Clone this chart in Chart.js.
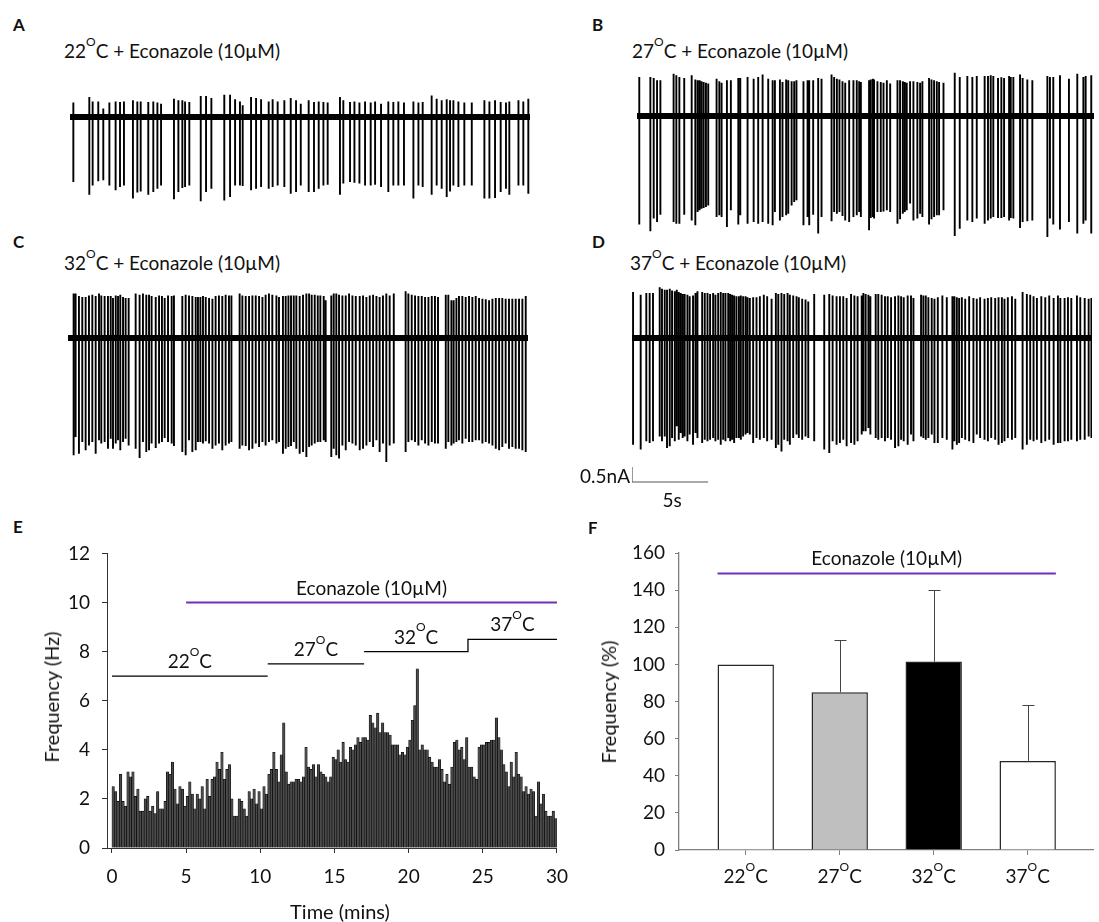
<!DOCTYPE html>
<html lang="en">
<head>
<meta charset="utf-8">
<title>Econazole (10µM) y temperatura</title>
<script src="https://cdn.jsdelivr.net/npm/chart.js@4.4.1/dist/chart.umd.min.js"></script>
<style>
  html, body { margin: 0; padding: 0; background: #fff; }
  #figura { position: relative; width: 1099px; height: 922px; overflow: hidden;
            font-family: Lato, 'Open Sans', sans-serif; color: #111; }
  #figura canvas { position: absolute; }
  .letra { position: absolute; font-weight: 700; font-size: 17px; line-height: 17px; }
  .titulo { position: absolute; font-size: 19px; line-height: 19px; white-space: nowrap; }
  .titulo sup { font-size: 12px; vertical-align: baseline; position: relative; top: -12px; }
  .eje { position: absolute; font-size: 20px; line-height: 20px; white-space: nowrap; }
  .centrado { transform: translateX(-50%); }
  .rotado { transform: translate(-50%, -50%) rotate(-90deg); }
</style>
</head>
<body>
<div id="figura">
  <div class="letra" style="left:13px;top:16px">A</div>
  <div class="titulo" style="left:64px;top:41px">22<sup>O</sup>C + Econazole (10µM)</div>
  <canvas id="trazoA" width="460" height="126" style="left:70px;top:87px"></canvas>

  <div class="letra" style="left:592px;top:16px">B</div>
  <div class="titulo" style="left:632px;top:41px">27<sup>O</sup>C + Econazole (10µM)</div>
  <canvas id="trazoB" width="457" height="180" style="left:637px;top:65px"></canvas>

  <div class="letra" style="left:13px;top:233px">C</div>
  <div class="titulo" style="left:64px;top:253px">32<sup>O</sup>C + Econazole (10µM)</div>
  <canvas id="trazoC" width="460" height="186" style="left:68px;top:284px"></canvas>

  <div class="letra" style="left:592px;top:233px">D</div>
  <div class="titulo" style="left:630px;top:253px">37<sup>O</sup>C + Econazole (10µM)</div>
  <canvas id="trazoD" width="470" height="210" style="left:622px;top:281px"></canvas>
  <div class="titulo" style="right:469px;top:466px">0.5nA</div>
  <div class="titulo centrado" style="left:672px;top:490px">5s</div>

  <div class="letra" style="left:13px;top:518px">E</div>
  <canvas id="graficoE" width="580" height="392" style="left:0px;top:530px"></canvas>
  <div class="eje centrado" style="left:340px;top:901px">Time (mins)</div>
  <div class="eje rotado" style="left:51px;top:697px">Frequency (Hz)</div>

  <div class="letra" style="left:588px;top:519px">F</div>
  <canvas id="graficoF" width="519" height="392" style="left:580px;top:530px"></canvas>
  <div class="eje rotado" style="left:608px;top:702px">Frequency (%)</div>
</div>

<script>
// ---------------- Trazos A-D ----------------
// Cada pico: tiempo (s), amplitud hacia abajo y hacia arriba (nA) respecto a la línea base
const duracionA = 30.26;
const tiempoPicosA = [0.22,1.27,1.49,1.86,2.19,2.59,3.00,3.29,3.55,4.14,4.43,4.65,5.15,5.48,5.75,5.99,6.84,7.13,7.39,7.57,
  7.85,8.60,8.95,9.30,10.15,10.53,10.86,11.18,11.36,11.91,12.24,12.57,13.07,13.33,13.66,14.10,14.52,14.87,15.18,15.70,
  16.05,16.36,16.67,16.95,17.76,17.98,18.42,18.71,19.04,19.41,19.78,20.07,20.46,20.94,21.27,21.60,21.97,22.59,22.92,23.20,
  23.79,24.12,24.45,24.78,25.00,25.22,25.55,25.94,26.43,27.26,27.59,27.96,28.33,28.68,28.90,29.50,29.82,30.15];
const bajadaPicosA = [2.17,2.59,2.28,2.14,2.11,2.28,2.44,2.33,2.28,2.72,2.52,2.48,2.59,2.50,2.39,2.28,2.74,2.50,2.37,2.33,
  2.28,2.81,2.50,2.39,2.78,2.67,2.28,2.28,2.30,2.44,2.39,2.33,2.39,2.33,2.28,2.33,2.56,2.50,2.28,2.50,
  2.50,2.39,2.28,2.26,2.59,2.22,2.17,2.19,2.22,2.28,2.28,2.26,2.33,2.50,2.28,2.28,2.28,2.72,2.28,2.33,
  2.59,2.28,2.39,2.67,2.48,2.28,2.33,2.28,2.28,2.72,2.72,2.70,2.50,2.39,2.59,2.28,2.28,2.56];
const subidaPicosA = [0.48,0.67,0.52,0.52,0.28,0.48,0.52,0.50,0.52,0.56,0.52,0.52,0.50,0.52,0.48,0.44,0.61,0.56,0.56,0.52,
  0.50,0.70,0.70,0.63,0.74,0.74,0.59,0.52,0.39,0.67,0.63,0.59,0.52,0.59,0.52,0.56,0.63,0.56,0.44,0.56,
  0.50,0.52,0.50,0.48,0.67,0.56,0.50,0.52,0.48,0.52,0.48,0.52,0.44,0.52,0.50,0.52,0.48,0.52,0.48,0.50,
  0.72,0.61,0.56,0.59,0.56,0.56,0.52,0.48,0.48,0.56,0.52,0.56,0.50,0.48,0.52,0.56,0.52,0.61];

const duracionB = 30.09;
const tiempoPicosB = [0.15,0.88,1.10,1.32,1.54,2.41,2.59,2.79,3.11,3.60,3.84,3.99,4.12,4.25,4.39,4.54,4.69,5.24,5.42,5.57,
  5.92,6.18,6.67,6.80,7.28,7.68,7.98,8.27,8.64,8.93,9.08,9.41,9.58,9.82,9.96,10.18,10.35,10.50,10.96,11.23,
  11.34,11.60,11.93,12.15,12.81,12.98,13.16,13.33,13.53,13.71,13.97,14.25,14.47,14.63,14.74,15.28,15.39,15.53,15.61,15.83,
  16.05,16.23,16.45,16.67,17.15,17.32,17.50,17.63,17.76,17.98,18.20,18.46,18.64,18.79,19.23,19.39,19.56,19.74,19.89,20.18,
  20.92,21.25,21.75,22.08,22.37,22.89,23.11,23.29,23.46,23.77,23.99,24.17,24.50,24.61,24.78,25.22,25.39,25.70,26.03,27.02,
  27.19,27.41,27.85,28.44,28.99,29.39,29.54,29.91];
const bajadaPicosB = [3.62,3.84,3.42,3.53,3.29,3.53,3.59,3.59,3.29,3.48,3.64,3.20,3.14,3.09,3.07,3.03,2.98,3.37,3.31,3.37,
  3.70,3.14,3.62,3.31,3.59,3.53,3.59,3.53,3.59,3.64,3.20,3.48,3.37,3.31,3.26,2.98,2.87,2.81,3.64,3.37,
  3.64,3.29,3.92,3.37,3.51,3.20,3.26,3.20,3.33,3.48,3.53,3.37,3.31,3.20,3.37,3.81,3.40,3.37,3.42,3.20,
  3.20,3.18,3.14,3.20,3.59,3.44,3.26,3.20,3.14,2.92,3.48,3.42,3.26,3.37,3.62,3.44,3.37,3.31,3.31,3.14,
  4.00,3.76,3.48,3.53,3.42,3.59,3.48,3.42,3.37,3.40,3.40,3.37,3.48,3.40,3.42,3.73,3.53,3.51,3.48,4.03,
  3.42,3.62,3.78,3.53,3.92,3.59,3.48,3.92];
const subidaPicosB = [1.30,1.30,1.27,1.19,1.19,1.41,1.36,1.30,1.27,1.36,1.22,1.19,1.19,1.16,1.13,1.11,1.08,1.24,1.16,1.11,
  1.19,1.19,1.27,1.27,1.30,1.24,1.30,1.38,1.24,1.19,1.19,1.22,1.13,1.22,1.19,1.16,1.16,1.19,1.16,1.19,
  1.19,1.19,1.27,1.24,1.38,1.30,1.24,1.22,1.16,1.11,1.19,1.19,1.19,1.16,1.13,1.19,1.22,1.24,1.22,1.16,
  1.13,1.11,1.19,1.08,1.19,1.19,1.16,1.13,1.11,1.16,1.16,1.13,1.11,1.16,1.27,1.22,1.19,1.16,1.13,1.11,
  1.44,1.30,1.33,1.30,1.33,1.33,1.33,1.36,1.33,1.27,1.29,1.27,1.33,1.30,1.30,1.38,1.27,1.22,1.19,1.33,
  1.30,1.30,1.36,1.24,1.41,1.30,1.33,1.36];

const duracionC = 30.26;
const tiempoPicosC = [0.37,0.50,0.72,0.94,1.16,1.38,1.60,1.82,2.04,2.19,2.41,2.63,2.81,2.96,3.14,3.29,3.44,3.62,3.79,3.99,
  4.45,4.71,4.93,5.15,5.33,5.50,5.77,5.99,6.18,6.36,6.58,6.82,6.97,
  7.52,7.74,7.96,8.18,8.40,8.55,8.71,8.88,9.06,9.28,9.50,9.71,9.93,10.15,10.37,10.59,10.75,
  11.29,11.47,11.69,11.91,12.13,12.35,12.57,12.79,13.00,13.22,13.44,13.71,13.88,
  14.14,14.32,14.50,14.67,14.85,15.02,15.24,15.46,15.68,15.86,16.03,16.23,16.43,16.60,16.82,16.95,
  17.32,17.48,17.65,17.83,18.05,18.27,18.49,18.71,18.93,19.19,19.41,19.63,19.85,20.07,20.29,20.50,20.72,20.94,21.16,21.43,
  22.21,22.39,22.61,22.83,23.05,23.27,23.49,23.71,23.93,24.14,24.34,
  24.85,25.02,25.22,25.37,25.55,25.72,25.94,26.16,26.38,26.60,26.82,27.04,27.26,27.48,27.70,27.92,28.14,28.36,28.57,28.79,
  29.01,29.23,29.45,29.67,29.89,30.11];
const bajadaPicosC = [3.91,3.30,3.86,3.47,3.74,3.58,3.47,3.86,3.41,3.52,3.47,3.69,3.36,3.69,3.52,3.41,3.74,3.47,3.36,3.58,
  3.69,4.00,3.47,3.80,3.74,3.52,3.67,3.52,3.47,3.33,3.47,3.52,3.60,
  3.80,3.91,3.41,3.80,3.74,3.47,3.47,3.52,3.44,3.52,3.69,3.58,3.52,3.74,3.58,3.52,3.47,
  3.69,3.58,3.60,3.74,3.69,3.52,3.63,3.47,3.58,3.47,3.41,3.52,3.47,
  3.86,3.69,3.63,3.60,3.47,3.69,3.86,3.80,3.97,3.63,3.58,3.52,3.47,3.47,3.41,3.47,
  3.97,3.69,3.91,4.02,3.58,3.74,3.47,3.52,3.58,3.74,3.69,3.58,3.47,3.63,3.41,3.80,3.52,4.13,3.58,3.52,
  3.80,3.47,3.41,3.47,3.58,3.41,3.52,3.58,3.47,3.52,3.52,
  3.69,3.47,3.58,3.52,3.47,3.41,3.52,3.36,3.47,3.47,3.41,3.41,3.52,3.47,3.52,3.58,3.69,3.74,3.63,3.52,
  3.69,3.63,3.69,3.69,3.74,3.80];
const subidaPicosC = [1.48,1.48,1.40,1.37,1.37,1.42,1.44,1.40,1.48,1.42,1.40,1.40,1.40,1.33,1.42,1.40,1.44,1.37,1.33,1.33,
  1.48,1.44,1.48,1.44,1.44,1.40,1.37,1.42,1.40,1.33,1.42,1.40,1.42,
  1.40,1.44,1.42,1.40,1.37,1.37,1.37,1.40,1.37,1.33,1.31,1.40,1.42,1.40,1.44,1.42,1.42,
  1.48,1.42,1.40,1.40,1.42,1.42,1.40,1.37,1.44,1.48,1.44,1.42,1.37,
  1.40,1.40,1.42,1.42,1.42,1.42,1.40,1.44,1.48,1.48,1.44,1.44,1.42,1.42,1.40,1.26,
  1.42,1.48,1.48,1.44,1.42,1.42,1.48,1.42,1.40,1.40,1.42,1.37,1.42,1.44,1.40,1.37,1.42,1.48,1.42,1.48,
  1.56,1.48,1.44,1.42,1.40,1.40,1.37,1.37,1.40,1.40,1.37,
  1.44,1.44,1.26,1.26,1.33,1.40,1.40,1.37,1.40,1.37,1.40,1.33,1.31,1.29,1.26,1.31,1.33,1.33,1.33,1.31,
  1.31,1.31,1.31,1.31,1.31,1.40];

const duracionD = 30.22;
const tiempoPicosD = [0.07,0.57,0.94,1.16,1.38,1.82,1.97,2.15,2.30,2.48,2.63,2.81,2.94,3.07,3.20,3.33,3.46,3.64,3.79,4.01,
  4.17,4.30,4.61,4.78,4.96,5.13,5.33,5.48,5.66,5.83,5.99,6.14,6.32,6.45,6.58,6.71,6.86,7.02,7.15,7.30,7.46,7.59,7.74,
  7.96,8.18,8.40,8.66,8.88,9.17,9.45,9.61,9.82,10.00,10.22,10.37,10.59,10.81,10.96,11.18,11.40,11.58,11.97,
  12.63,12.96,13.18,13.44,13.66,13.88,14.10,14.39,14.61,14.82,15.09,15.20,15.35,15.53,15.66,16.01,16.18,16.40,16.62,16.80,
  17.02,17.28,17.50,17.68,17.85,18.11,18.33,18.49,
  18.99,19.14,19.30,19.47,19.69,19.87,20.09,20.39,20.68,21.05,21.18,21.34,21.49,21.67,21.89,22.15,22.43,22.65,22.87,23.16,
  23.38,23.60,23.86,24.08,24.30,24.47,24.69,24.96,25.18,
  25.66,25.94,26.16,26.38,26.60,26.89,27.15,27.41,27.70,27.98,28.14,28.42,28.64,28.86,29.23,29.45,29.74,30.00,30.18];
const bajadaPicosD = [3.56,3.72,3.44,3.50,3.44,3.28,3.44,3.28,3.67,3.61,3.33,3.44,2.94,3.39,3.17,3.33,3.28,3.44,3.22,3.56,
  3.17,3.33,3.50,3.39,3.44,3.39,3.33,3.44,3.39,3.56,3.39,3.44,3.33,3.44,3.39,3.50,3.33,3.33,3.39,3.28,3.22,3.17,3.22,
  3.50,3.33,3.39,3.33,3.44,3.39,3.67,3.56,3.78,3.39,3.44,3.56,3.33,3.22,3.33,3.39,3.28,3.33,3.44,
  3.72,3.83,3.44,3.56,3.50,3.39,3.61,3.50,3.56,3.44,3.22,3.11,3.11,3.00,3.22,3.33,3.39,3.33,3.44,3.33,
  3.39,3.67,3.61,3.39,3.44,3.56,3.22,3.44,
  3.28,3.33,3.39,3.33,3.22,3.50,3.50,3.33,3.39,3.72,3.44,3.56,3.50,3.33,3.39,3.44,3.50,3.22,3.33,3.39,
  3.44,3.33,3.39,3.56,3.50,3.44,3.33,3.39,3.33,
  3.72,3.56,3.39,3.44,3.39,3.50,3.44,3.39,3.56,3.50,3.50,3.44,3.44,3.39,3.44,3.39,3.39,3.28,3.33];
const subidaPicosD = [1.53,1.44,1.50,1.50,1.50,1.69,1.64,1.61,1.61,1.64,1.58,1.56,1.61,1.53,1.50,1.47,1.47,1.44,1.39,1.42,
  1.50,1.56,1.53,1.50,1.50,1.47,1.50,1.44,1.50,1.53,1.50,1.50,1.50,1.47,1.44,1.42,1.39,1.39,1.42,1.39,1.39,1.36,1.33,
  1.36,1.36,1.39,1.44,1.39,1.31,1.50,1.47,1.50,1.47,1.50,1.44,1.42,1.39,1.36,1.31,1.28,1.22,1.47,
  1.44,1.47,1.42,1.39,1.39,1.39,1.33,1.47,1.42,1.39,1.42,1.50,1.47,1.44,1.39,1.47,1.47,1.44,1.39,1.39,
  1.36,1.39,1.42,1.39,1.36,1.42,1.42,1.33,
  1.44,1.42,1.42,1.36,1.33,1.31,1.36,1.42,1.36,1.39,1.39,1.36,1.33,1.36,1.31,1.39,1.33,1.31,1.36,1.31,
  1.33,1.36,1.33,1.36,1.36,1.31,1.36,1.39,1.31,
  1.53,1.47,1.44,1.39,1.33,1.39,1.36,1.42,1.33,1.42,1.33,1.33,1.36,1.33,1.42,1.36,1.33,1.31,1.33];

// Barra de escala (panel D)
const escalaCorrienteNA = 0.5;
const escalaTiempoS = 5;

// ---------------- Panel E: histograma de frecuencia ----------------
const anchoBinMin = 1 / 6;   // bins de 10 s
const frecuenciaHz = [
  2.5,2.3,1.9,3.0,1.9,1.7,3.1,2.9,3.1,2.1,2.4,1.5,1.5,2.0,2.1,1.5,1.7,1.4,2.3,1.6,1.6,1.9,3.1,3.0,3.5,2.4,1.8,2.5,2.4,1.7,
  2.1,2.7,2.2,1.6,2.2,2.0,2.5,1.6,2.8,2.1,2.8,2.9,3.5,3.2,3.9,2.8,3.2,3.4,2.0,1.3,1.3,2.0,1.9,1.6,1.3,2.3,2.0,2.4,1.8,2.3,
  1.6,2.5,2.2,3.0,3.2,3.9,3.2,2.7,3.8,5.1,3.1,2.6,2.7,2.7,2.8,2.8,2.7,2.9,4.1,3.3,3.2,3.4,2.9,3.4,3.1,3.0,2.9,2.7,2.9,
  3.7,3.6,4.0,3.5,4.3,3.6,3.5,4.1,4.0,4.2,4.5,4.3,4.5,4.5,4.4,5.4,5.1,4.9,5.5,4.7,5.1,4.7,4.7,4.6,
  4.2,4.2,4.2,3.8,3.9,3.8,4.1,4.4,5.2,5.8,7.3,4.0,4.2,4.0,4.0,3.7,3.5,3.3,3.3,3.6,3.2,2.7,3.0,2.6,3.3,
  4.3,4.4,4.0,4.1,3.6,4.5,3.3,3.3,2.9,2.8,4.1,4.2,4.2,4.3,4.3,4.4,4.4,5.3,4.5,4.0,3.4,3.1,
  2.5,3.5,2.9,3.9,3.0,2.9,2.3,2.5,2.2,2.4,2.3,1.3,2.7,1.8,2.2,1.5,1.3,1.3,1.5,1.2];
const ticksTiempo = [0, 5, 10, 15, 20, 25, 30];
const temperaturas = ['22', '27', '32', '37'];
const tempInicioMin = [0, 10.5, 17, 24];
const tempFinMin = [10.5, 17, 24, 30];
const tempNivelHz = [7, 7.5, 8, 8.5];
const tempConectaSiguiente = [false, false, true, false];
const econazolInicioMin = 5;
const econazolFinMin = 30;
const econazolNivelHz = 10;

// ---------------- Panel F: frecuencia relativa ----------------
const frecuenciaPct = [100, 85, 101.5, 48];
const errorPct = [0, 28, 38.5, 30];
const econazolInicioF = 0.7;
const econazolFinF = 4.3;
const econazolNivelPct = 149;

// Estilos
const PURPURA = '#7030b8';
const COLORES_F = ['#ffffff', '#bfbfbf', '#000000', '#ffffff'];
const TEXTO = '#111';
const FUENTE = "Lato, 'Open Sans', sans-serif";

Chart.defaults.font.family = FUENTE;
Chart.defaults.color = TEXTO;

/**
 * Dibuja un texto tipo "22ᴼC" (con la O en superíndice) centrado en x.
 */
function textoSuperindice(ctx, base, sup, cola, x, yBase, tam) {
    ctx.save();
    ctx.fillStyle = TEXTO;
    ctx.textAlign = 'left';
    ctx.textBaseline = 'alphabetic';
    const fNormal = `${tam}px ${FUENTE}`;
    const fSup = `${Math.round(tam * 0.63)}px ${FUENTE}`;
    ctx.font = fNormal;
    const w1 = ctx.measureText(base).width;
    const w3 = ctx.measureText(cola).width;
    ctx.font = fSup;
    const w2 = ctx.measureText(sup).width;
    const x0 = x - (w1 + w2 + w3) / 2;
    ctx.font = fNormal;
    ctx.fillText(base, x0, yBase);
    ctx.font = fSup;
    ctx.fillText(sup, x0 + w1, yBase - tam * 0.65);
    ctx.font = fNormal;
    ctx.fillText(cola, x0 + w1 + w2, yBase);
    ctx.restore();
}

function textoCentrado(ctx, texto, x, yBase, tam) {
    ctx.save();
    ctx.fillStyle = TEXTO;
    ctx.textAlign = 'center';
    ctx.textBaseline = 'alphabetic';
    ctx.font = `${tam}px ${FUENTE}`;
    ctx.fillText(texto, x, yBase);
    ctx.restore();
}

/**
 * Crea un trazo de corriente: línea base gruesa + un segmento vertical por pico.
 */
function crearTrazo(idCanvas, tiempos, bajadas, subidas, duracion, yMin, yMax, extras = [], padIzq = 0) {
    const picos = [];
    tiempos.forEach((t, i) => {
        picos.push({ x: t, y: subidas[i] }, { x: t, y: -bajadas[i] }, { x: t, y: null });
    });

    return new Chart(document.getElementById(idCanvas), {
        type: 'line',
        data: {
            datasets: [
                { data: [{ x: 0, y: 0 }, { x: duracion, y: 0 }], borderColor: '#000', borderWidth: 6 },
                { data: picos, borderColor: '#000', borderWidth: 1.9, spanGaps: false },
                ...extras
            ]
        },
        options: {
            responsive: false,
            animation: false,
            events: [],
            layout: { padding: { left: padIzq, right: 0, top: 0, bottom: 0 } },
            elements: { point: { radius: 0 }, line: { tension: 0 } },
            plugins: { legend: { display: false }, tooltip: { enabled: false } },
            scales: {
                x: { type: 'linear', display: false, min: 0, max: duracion },
                y: { type: 'linear', display: false, min: yMin, max: yMax }
            }
        }
    });
}

crearTrazo('trazoA', tiempoPicosA, bajadaPicosA, subidaPicosA, duracionA, -3.2, 1.0);
crearTrazo('trazoB', tiempoPicosB, bajadaPicosB, subidaPicosB, duracionB, -4.3, 1.7);
crearTrazo('trazoC', tiempoPicosC, bajadaPicosC, subidaPicosC, duracionC, -4.4, 1.8);

// Panel D lleva también la barra de escala (0.5 nA / 5 s)
const anclaEscala = -4.8;
crearTrazo('trazoD', tiempoPicosD, bajadaPicosD, subidaPicosD, duracionD, -5.1, 1.9, [{
    data: [
        { x: 0, y: anclaEscala + escalaCorrienteNA },
        { x: 0, y: anclaEscala },
        { x: escalaTiempoS, y: anclaEscala }
    ],
    borderColor: '#555',
    borderWidth: 1.2
}], 10);

// ---------------- Panel E ----------------
const puntosTemp = [];
temperaturas.forEach((_, i) => {
    puntosTemp.push({ x: tempInicioMin[i], y: tempNivelHz[i] }, { x: tempFinMin[i], y: tempNivelHz[i] });
    if (!tempConectaSiguiente[i]) puntosTemp.push({ x: tempFinMin[i], y: null });
});

const etiquetasE = {
    id: 'etiquetasE',
    afterDatasetsDraw(chart) {
        const { ctx, scales: { x, y } } = chart;
        temperaturas.forEach((temp, i) => {
            const cx = x.getPixelForValue((tempInicioMin[i] + tempFinMin[i]) / 2);
            textoSuperindice(ctx, temp, 'O', 'C', cx, y.getPixelForValue(tempNivelHz[i]) - 8, 19);
        });
        textoCentrado(ctx, 'Econazole (10µM)',
            x.getPixelForValue((econazolInicioMin + econazolFinMin) / 2),
            y.getPixelForValue(econazolNivelHz) - 8, 19);
    }
};

const fuenteTicks = { size: 19, family: FUENTE };

new Chart(document.getElementById('graficoE'), {
    type: 'bar',
    data: {
        datasets: [
            {
                type: 'line',
                data: [{ x: econazolInicioMin, y: econazolNivelHz }, { x: econazolFinMin, y: econazolNivelHz }],
                borderColor: PURPURA, borderWidth: 2, pointRadius: 0, order: 1
            },
            {
                type: 'line', data: puntosTemp, borderColor: '#000', borderWidth: 1.3,
                pointRadius: 0, spanGaps: false, order: 1
            },
            {
                type: 'bar',
                data: frecuenciaHz.map((v, i) => ({ x: (i + 0.5) * anchoBinMin, y: v })),
                backgroundColor: '#4a4a4a', borderColor: '#000', borderWidth: 0.6,
                barPercentage: 1, categoryPercentage: 1, order: 2
            }
        ]
    },
    options: {
        responsive: false,
        animation: false,
        events: [],
        layout: { padding: { top: 19, right: 11, left: 0, bottom: 0 } },
        plugins: { legend: { display: false }, tooltip: { enabled: false } },
        scales: {
            x: {
                type: 'linear', min: -1 / 3, max: 30, offset: false,
                afterBuildTicks: s => { s.ticks = ticksTiempo.map(v => ({ value: v })); },
                afterFit: s => { s.height = 74; },
                ticks: { font: fuenteTicks, color: TEXTO, padding: 12, maxRotation: 0, autoSkip: false },
                grid: { drawOnChartArea: false, drawTicks: true, tickLength: 5, color: '#333', offset: false },
                border: { color: '#333', width: 1 }
            },
            y: {
                min: 0, max: 12,
                afterFit: s => { s.width = 107; },
                ticks: { stepSize: 2, font: fuenteTicks, color: TEXTO, padding: 12 },
                grid: { drawOnChartArea: false, drawTicks: true, tickLength: 5, color: '#333' },
                border: { color: '#333', width: 1 }
            }
        }
    },
    plugins: [etiquetasE]
});

// ---------------- Panel F ----------------
const extrasF = {
    id: 'extrasF',
    afterDatasetsDraw(chart) {
        const { ctx, chartArea, scales: { x, y } } = chart;
        // Barras de error (solo hacia arriba)
        ctx.save();
        ctx.strokeStyle = '#444';
        ctx.lineWidth = 1;
        frecuenciaPct.forEach((v, i) => {
            if (!errorPct[i]) return;
            const px = Math.round(x.getPixelForValue(i + 1)) + 0.5;
            const y0 = y.getPixelForValue(v);
            const y1 = Math.round(y.getPixelForValue(v + errorPct[i])) + 0.5;
            ctx.beginPath();
            ctx.moveTo(px, y0);
            ctx.lineTo(px, y1);
            ctx.moveTo(px - 6, y1);
            ctx.lineTo(px + 6, y1);
            ctx.stroke();
        });
        ctx.restore();
        // Etiquetas de categoría con superíndice
        temperaturas.forEach((temp, i) => {
            textoSuperindice(ctx, temp, 'O', 'C', x.getPixelForValue(i + 1), chartArea.bottom + 33, 19);
        });
        textoCentrado(ctx, 'Econazole (10µM)',
            x.getPixelForValue((econazolInicioF + econazolFinF) / 2),
            y.getPixelForValue(econazolNivelPct) - 8, 19);
    }
};

new Chart(document.getElementById('graficoF'), {
    type: 'bar',
    data: {
        datasets: [
            {
                type: 'bar',
                data: frecuenciaPct.map((v, i) => ({ x: i + 1, y: v })),
                backgroundColor: COLORES_F, borderColor: '#262626', borderWidth: 1.5,
                barPercentage: 0.6, categoryPercentage: 1, order: 2
            },
            {
                type: 'line',
                data: [{ x: econazolInicioF, y: econazolNivelPct }, { x: econazolFinF, y: econazolNivelPct }],
                borderColor: PURPURA, borderWidth: 2, pointRadius: 0, order: 1
            }
        ]
    },
    options: {
        responsive: false,
        animation: false,
        events: [],
        layout: { padding: { top: 23, right: 6, left: 0, bottom: 0 } },
        plugins: { legend: { display: false }, tooltip: { enabled: false } },
        scales: {
            x: {
                type: 'linear', min: 0.29, max: 4.695, offset: false,
                afterBuildTicks: s => { s.ticks = temperaturas.map((_, i) => ({ value: i + 1 })); },
                afterFit: s => { s.height = 72; },
                ticks: { display: false },
                grid: { drawOnChartArea: false, drawTicks: true, tickLength: 5, color: '#7f7f7f', offset: false },
                border: { color: '#7f7f7f', width: 1.3 }
            },
            y: {
                min: 0, max: 160,
                afterFit: s => { s.width = 99; },
                ticks: { stepSize: 20, font: fuenteTicks, color: TEXTO, padding: 10 },
                grid: { drawOnChartArea: false, drawTicks: true, tickLength: 4, color: '#7f7f7f' },
                border: { color: '#7f7f7f', width: 1.3 }
            }
        }
    },
    plugins: [extrasF]
});
</script>
</body>
</html>
